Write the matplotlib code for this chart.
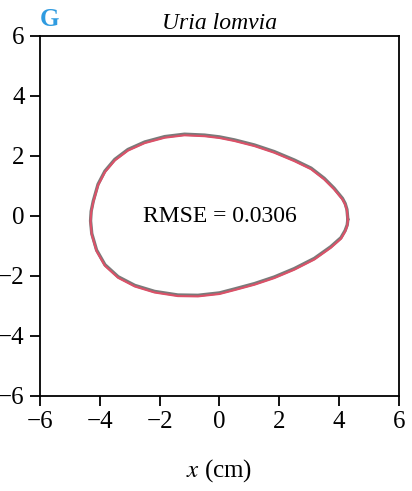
import matplotlib
matplotlib.use("Agg")
import matplotlib.pyplot as plt
import matplotlib.transforms as mtransforms

# Egg outline (fitted model), counterclockwise
x_fit = [4.29, 4.26, 4.20, 4.11, 3.83, 3.50, 3.06, 2.50, 1.83, 1.17, 0.50, 0.00, -0.50,
         -1.17, -1.83, -2.50, -3.06, -3.50, -3.83, -4.06, -4.22, -4.29, -4.31, -4.27,
         -4.11, -3.83, -3.39, -2.83, -2.17, -1.39, -0.72, 0.00, 0.50, 1.17, 1.83,
         2.50, 3.17, 3.72, 4.06, 4.20, 4.27, 4.29]
y_fit = [-0.15, 0.18, 0.38, 0.55, 0.89, 1.22, 1.56, 1.83, 2.11, 2.33, 2.50, 2.60, 2.66,
         2.69, 2.61, 2.43, 2.18, 1.85, 1.46, 1.02, 0.46, 0.12, -0.20, -0.62,
         -1.17, -1.66, -2.06, -2.35, -2.55, -2.67, -2.68, -2.60, -2.47, -2.29, -2.07,
         -1.79, -1.45, -1.06, -0.76, -0.52, -0.33, -0.15]
# Measured outline (grey) — visually coincident with the fit
x_data = list(x_fit)
y_data = list(y_fit)

rmse_text = "RMSE = 0.0306"
species = "Uria lomvia"
panel = "G"
ticks = [-6, -4, -2, 0, 2, 4, 6]

plt.rcParams['font.family'] = ['Liberation Serif', 'DejaVu Serif']
plt.rcParams['mathtext.fontset'] = 'stix'

fig = plt.figure(figsize=(4.12, 4.91), dpi=100)
ax = fig.add_axes([40/412, 1-396/491, 359/412, 360/491])

off = mtransforms.offset_copy(ax.transData, fig=fig, x=0, y=0.8, units='points')
ax.plot(x_data, y_data, color='#7a7a7a', lw=2.4, transform=off,
        solid_joinstyle='round', solid_capstyle='round')
ax.plot(x_fit, y_fit, color='#dc5168', lw=1.5, solid_joinstyle='round',
        solid_capstyle='round')

ax.text(0, 0, rmse_text, ha='center', va='center', fontsize=17)

ax.set_xlim(-6, 6)
ax.set_ylim(-6, 6)
ax.set_xticks(ticks)
ax.set_yticks(ticks)
ax.set_xticklabels([("\u2212%d" % -t) if t < 0 else str(t) for t in ticks])
ax.set_yticklabels([("\u2212%d" % -t) if t < 0 else str(t) for t in ticks])
ax.tick_params(direction='out', length=7, width=1.3, labelsize=18, pad=4)
for s in ax.spines.values():
    s.set_linewidth(1.3)

ax.set_title(species, style='italic', fontsize=17, pad=5)
ax.text(0.0, 1.015, panel, transform=ax.transAxes, color='#2f9be0',
        fontweight='bold', fontsize=18, ha='left', va='bottom')
ax.set_xlabel("$x$ (cm)", fontsize=18, labelpad=17)

fig.savefig("out.png", dpi=100)
